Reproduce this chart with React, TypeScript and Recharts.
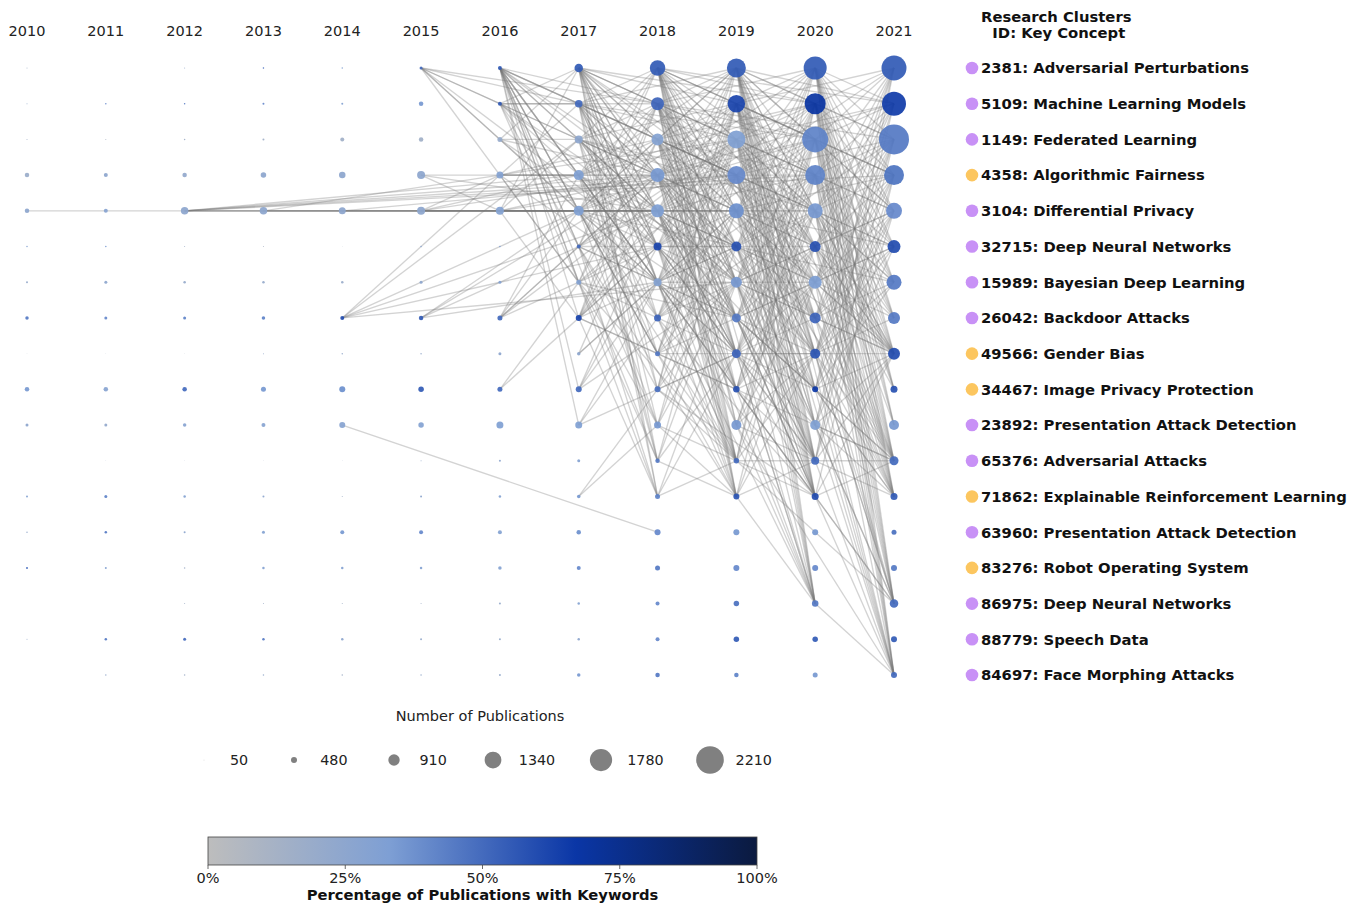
import React from "react";
import { ScatterChart, Scatter, XAxis, YAxis, ReferenceLine } from "recharts";

const years = [2010, 2011, 2012, 2013, 2014, 2015, 2016, 2017, 2018, 2019, 2020, 2021];

const clusterIds = [2381, 5109, 1149, 4358, 3104, 32715, 15989, 26042, 49566, 34467, 23892, 65376, 71862, 63960, 83276, 86975, 88779, 84697];
const clusterNames = [
  "Adversarial Perturbations",
  "Machine Learning Models",
  "Federated Learning",
  "Algorithmic Fairness",
  "Differential Privacy",
  "Deep Neural Networks",
  "Bayesian Deep Learning",
  "Backdoor Attacks",
  "Gender Bias",
  "Image Privacy Protection",
  "Presentation Attack Detection",
  "Adversarial Attacks",
  "Explainable Reinforcement Learning",
  "Presentation Attack Detection",
  "Robot Operating System",
  "Deep Neural Networks",
  "Speech Data",
  "Face Morphing Attacks",
];
const clusterGroups = ["A", "A", "A", "B", "A", "A", "A", "A", "B", "B", "A", "A", "B", "A", "B", "A", "A", "A"];

// number of publications, one row per cluster, one column per year
const publications = [
  [80, 0, 80, 120, 120, 240, 320, 680, 1240, 1520, 1840, 2000],
  [80, 120, 120, 160, 160, 360, 320, 600, 1040, 1400, 1680, 1920],
  [80, 80, 120, 160, 320, 360, 400, 640, 960, 1440, 2080, 2400],
  [360, 320, 360, 440, 520, 640, 560, 800, 1120, 1440, 1600, 1600],
  [360, 320, 600, 600, 560, 640, 640, 800, 1040, 1200, 1200, 1280],
  [120, 120, 80, 80, 40, 120, 120, 320, 640, 800, 880, 1040],
  [160, 240, 200, 200, 200, 240, 240, 400, 640, 880, 1040, 1200],
  [280, 240, 240, 280, 320, 360, 400, 480, 560, 720, 880, 960],
  [40, 40, 40, 80, 120, 120, 240, 280, 400, 720, 800, 960],
  [360, 360, 360, 400, 480, 440, 400, 480, 480, 520, 480, 560],
  [240, 240, 280, 320, 480, 440, 560, 560, 560, 800, 800, 800],
  [0, 40, 40, 40, 40, 80, 160, 240, 360, 440, 640, 720],
  [160, 240, 200, 160, 80, 160, 200, 280, 400, 480, 560, 560],
  [120, 200, 160, 240, 320, 320, 320, 360, 480, 480, 480, 400],
  [160, 160, 120, 200, 200, 200, 280, 320, 400, 480, 480, 480],
  [0, 0, 80, 80, 80, 80, 160, 200, 320, 440, 520, 680],
  [80, 200, 240, 200, 200, 160, 160, 200, 320, 440, 440, 480],
  [0, 120, 120, 120, 120, 120, 160, 280, 360, 360, 400, 480],
];

// percentage of publications with keywords
const keywordShare = [
  [15, 0, 20, 50, 30, 50, 55, 55, 55, 55, 55, 55],
  [20, 40, 45, 40, 30, 35, 55, 50, 52, 62, 68, 65],
  [15, 10, 15, 15, 15, 15, 20, 25, 30, 32, 42, 45],
  [18, 25, 22, 25, 25, 25, 30, 32, 35, 40, 42, 47],
  [25, 28, 25, 25, 25, 25, 30, 32, 33, 38, 35, 40],
  [30, 35, 15, 10, 10, 30, 35, 50, 62, 58, 58, 60],
  [20, 25, 20, 20, 18, 25, 30, 30, 30, 35, 33, 45],
  [45, 40, 42, 42, 60, 55, 50, 62, 52, 45, 52, 45],
  [10, 10, 10, 20, 20, 20, 25, 25, 45, 52, 57, 60],
  [35, 28, 50, 35, 38, 55, 50, 50, 48, 58, 66, 58],
  [25, 22, 28, 28, 28, 30, 32, 32, 35, 35, 32, 35],
  [0, 15, 15, 15, 15, 20, 25, 30, 45, 50, 50, 50],
  [30, 42, 30, 25, 15, 25, 30, 35, 42, 57, 60, 55],
  [20, 45, 25, 30, 35, 40, 30, 38, 40, 35, 35, 48],
  [50, 30, 15, 30, 30, 30, 30, 40, 45, 40, 40, 45],
  [0, 0, 15, 15, 15, 15, 20, 30, 40, 48, 45, 50],
  [20, 45, 50, 45, 25, 20, 20, 25, 40, 55, 55, 55],
  [0, 20, 15, 20, 15, 20, 20, 35, 45, 42, 35, 50],
];

// links: "year.row" -> "targetYear:rows targetYear:rows"
const links: [string, string][] = [
  ["2010.4", "2011:4"],
  ["2011.4", "2012:4"],
  ["2012.4", "2016:4 2017:3,4 2018:3,4 2019:3 2020:3,4 2021:3"],
  ["2013.4", "2016:3 2018:4 2019:4"],
  ["2014.4", "2017:4 2019:3"],
  ["2015.4", "2016:3,4 2017:3 2018:3,4 2019:4"],
  ["2015.3", "2016:4 2017:3 2018:4"],
  ["2015.0", "2016:2 2017:1,2,4,6 2018:1,3,5"],
  ["2014.7", "2016:3 2017:2,4 2018:4,5 2019:6"],
  ["2015.7", "2017:4,5 2018:3,6"],
  ["2014.10", "2018:13"],
  ["2016.0", "2017:1,2,3,4,5,6,7,9,10 2018:1,2,3,4,6,8,10,11,12 2019:3,5,9,12"],
  ["2016.1", "2017:0,1,3,5 2018:1,4,7,11 2019:6"],
  ["2016.2", "2017:0,2,4 2018:3,5"],
  ["2016.3", "2017:1,3,6 2018:2,3,6 2019:2 2020:3"],
  ["2016.4", "2017:0,2,4,7 2018:3,4 2019:3,4 2020:4"],
  ["2016.7", "2017:3,4,5 2018:3,5 2019:2"],
  ["2016.9", "2017:6 2018:5"],
  ["2017.0", "2018:1,2,3,4,5,6,7,9,11,12 2019:1,2,3,4,6,8,10,12 2020:1,3,5,8"],
  ["2017.1", "2018:0,2,3,4,5,6,8,10,12 2019:0,2,3,5,7,9,11 2020:2,6"],
  ["2017.2", "2018:0,1,3,4,5,7,9,11 2019:1,3,4,6,8 2020:4,9"],
  ["2017.3", "2018:0,1,2,5,6,7,8,11 2019:0,2,5,6,9 2020:1,7"],
  ["2017.4", "2018:0,1,2,3,5,6,8,10 2019:0,1,5,7,8,11 2020:2"],
  ["2017.5", "2018:0,1,3,4,6,9,12 2019:2,5,7,12"],
  ["2017.6", "2018:1,2,4,7,10 2019:3,7,11"],
  ["2017.7", "2018:1,2,3,4,5,8,12 2019:2,5,9"],
  ["2017.8", "2018:3,6 2019:4"],
  ["2017.9", "2018:4,5,6 2019:6"],
  ["2017.10", "2018:6,7 2019:8"],
  ["2017.12", "2018:9,10"],
  ["2018.0", "2019:1,2,3,4,5,6,7,8,9,10,11,12 2020:1,2,3,5,7,8,11,12,15 2021:1,3,6"],
  ["2018.1", "2019:0,2,3,4,5,6,7,8,10,11,12 2020:0,2,4,6,9,11,15 2021:2,8"],
  ["2018.2", "2019:0,1,3,4,5,6,7,8,9,11,12 2020:1,3,4,7,10,12 2021:5"],
  ["2018.3", "2019:0,1,2,4,5,6,7,8,9,11,12 2020:0,2,5,8,11,15 2021:1"],
  ["2018.4", "2019:0,1,2,3,5,6,7,8,9,10,11 2020:1,3,6,12,15"],
  ["2018.5", "2019:0,1,2,3,4,6,7,8,11,12 2020:2,5,9,11"],
  ["2018.6", "2019:0,1,2,3,4,5,7,8,11 2020:3,6,12,15"],
  ["2018.7", "2019:1,2,3,4,5,6,8,11,12 2020:4,12"],
  ["2018.8", "2019:1,2,3,5,6,7,9,11 2020:8"],
  ["2018.9", "2019:0,1,4,6,8,11 2020:12"],
  ["2018.10", "2019:2,4,6,11,12"],
  ["2018.11", "2019:3,5,8,12"],
  ["2018.12", "2019:6,8,11"],
  ["2019.0", "2020:1,2,3,4,5,6,7,8,9,10,11,12,15 2021:1,2,4,8,11,15,17"],
  ["2019.1", "2020:0,2,3,4,5,6,7,8,9,10,11,12,15 2021:0,3,8,12,15"],
  ["2019.2", "2020:0,1,3,4,5,6,7,8,9,11,12,15 2021:1,4,8,11,17"],
  ["2019.3", "2020:0,1,2,4,5,6,7,8,10,11,12,15 2021:0,2,8,12,17"],
  ["2019.4", "2020:0,1,2,3,5,6,7,8,9,11,12,15 2021:3,5,8,11"],
  ["2019.5", "2020:0,1,2,3,4,6,7,8,10,11,12 2021:2,6,8,15"],
  ["2019.6", "2020:0,1,2,3,4,5,7,8,11,12,15 2021:4,8,12"],
  ["2019.7", "2020:1,2,3,4,5,6,8,9,11,12 2021:5,11,17"],
  ["2019.8", "2020:0,2,3,4,5,6,7,9,11,15 2021:8,12"],
  ["2019.9", "2020:1,2,4,5,6,8,11,12 2021:11,15"],
  ["2019.10", "2020:3,4,6,8,11,15 2021:17"],
  ["2019.11", "2020:1,2,5,8,12 2021:11,15"],
  ["2019.12", "2020:3,6,8,11,15"],
  ["2020.0", "2021:1,2,3,4,5,6,7,8,9,10,11,12,15,17"],
  ["2020.1", "2021:0,2,3,4,5,6,7,8,9,10,11,12,15,17"],
  ["2020.2", "2021:0,1,3,4,5,6,7,8,9,10,11,12,15,17"],
  ["2020.3", "2021:0,1,2,4,5,6,7,8,9,11,12,15,17"],
  ["2020.4", "2021:0,1,2,3,5,6,7,8,10,11,12,15,17"],
  ["2020.5", "2021:0,1,2,3,4,6,7,8,9,11,12,15"],
  ["2020.6", "2021:0,1,2,3,4,5,7,8,11,12,17"],
  ["2020.7", "2021:0,2,3,4,5,6,8,11,12,15"],
  ["2020.8", "2021:1,2,3,4,5,6,7,11,12,15,17"],
  ["2020.9", "2021:0,2,4,6,8,11,12,17"],
  ["2020.10", "2021:1,3,5,8,11,15"],
  ["2020.11", "2021:0,2,4,8,12,17"],
  ["2020.12", "2021:3,8,11,15"],
  ["2020.15", "2021:17"],
];

const sizeLegend = [50, 480, 910, 1340, 1780, 2210];
const shareTicks = [0, 25, 50, 75, 100];

const FONT = "'DejaVu Sans', sans-serif";
const PX_PER_PUB = 1 / 160; // bubble radius per publication
const groupColor: Record<string, string> = { A: "#c891f6", B: "#fcc65f" };
const colorStops: [number, string][] = [
  [0, "#bdbdbd"],
  [0.33, "#7e9fd4"],
  [0.67, "#0a36a6"],
  [1, "#0b1a3f"],
];

function hexToRgb(h: string) {
  return [1, 3, 5].map((i) => parseInt(h.slice(i, i + 2), 16));
}

function shareColor(pct: number) {
  const t = Math.max(0, Math.min(1, pct / 100));
  for (let i = 1; i < colorStops.length; i++) {
    const [t0, c0] = colorStops[i - 1];
    const [t1, c1] = colorStops[i];
    if (t <= t1) {
      const f = (t - t0) / (t1 - t0);
      const a = hexToRgb(c0);
      const b = hexToRgb(c1);
      const m = a.map((v, k) => Math.round(v + (b[k] - v) * f));
      return `rgb(${m[0]},${m[1]},${m[2]})`;
    }
  }
  return colorStops[colorStops.length - 1][1];
}

const rows = clusterIds.map((_, i) => i);

const nodes = publications.flatMap((counts, row) =>
  counts
    .map((count, c) => ({ year: years[c], row, count, share: keywordShare[row][c] }))
    .filter((d) => d.count > 0)
);

const segments = links.flatMap(([src, targets]) => {
  const [sy, sr] = src.split(".").map(Number);
  return targets.split(" ").flatMap((grp) => {
    const [ty, list] = grp.split(":");
    return list.split(",").map((r) => ({ x1: sy, y1: sr, x2: Number(ty), y2: Number(r) }));
  });
});

const renderBubble = (p: any) => (
  <circle
    cx={p.cx}
    cy={p.cy}
    r={p.payload.count * PX_PER_PUB}
    fill={shareColor(p.payload.share)}
    fillOpacity={0.93}
  />
);

const renderYearTick = ({ x, y, payload }: any) => (
  <text x={x} y={y - 32} textAnchor="middle" fontSize={14.5} fontFamily={FONT} fill="#222">
    {payload.value}
  </text>
);

const renderClusterTick = ({ x, y, payload }: any) => {
  const i = payload.value;
  return (
    <g>
      <circle cx={x + 78} cy={y} r={6.3} fill={groupColor[clusterGroups[i]]} />
      <text x={x + 87} y={y} dy="0.36em" fontSize={14.8} fontWeight="bold" fontFamily={FONT} fill="#111">
        {`${clusterIds[i]}: ${clusterNames[i]}`}
      </text>
    </g>
  );
};

function SizeLegend() {
  return (
    <div style={{ position: "absolute", left: 184, top: 743, display: "flex", alignItems: "center", fontFamily: FONT, fontSize: 14.3, color: "#222" }}>
      {sizeLegend.map((v) => (
        <div key={v} style={{ display: "flex", alignItems: "center", marginRight: 26 }}>
          <svg width={40} height={34}>
            <circle cx={20} cy={17} r={v * PX_PER_PUB} fill="#808080" />
          </svg>
          <span style={{ marginLeft: 6 }}>{v}</span>
        </div>
      ))}
    </div>
  );
}

function ColorBar() {
  const x0 = 208;
  const w = 549;
  return (
    <svg style={{ position: "absolute", left: 0, top: 820 }} width={960} height={83}>
      <defs>
        <linearGradient id="shareGrad" x1="0" x2="1" y1="0" y2="0">
          {colorStops.map(([t, c]) => (
            <stop key={t} offset={t} stopColor={c} />
          ))}
        </linearGradient>
      </defs>
      <rect x={x0} y={17} width={w} height={28} fill="url(#shareGrad)" stroke="#444" strokeWidth={0.8} />
      {shareTicks.map((t) => (
        <g key={t}>
          <line x1={x0 + (t / 100) * w} x2={x0 + (t / 100) * w} y1={45} y2={49} stroke="#444" strokeWidth={0.8} />
          <text x={x0 + (t / 100) * w} y={63} textAnchor="middle" fontSize={14.5} fontFamily={FONT} fill="#222">
            {t}%
          </text>
        </g>
      ))}
      <text x={x0 + w / 2} y={80} textAnchor="middle" fontSize={14.75} fontWeight="bold" fontFamily={FONT} fill="#111">
        Percentage of Publications with Keywords
      </text>
    </svg>
  );
}

export default function App() {
  return (
    <div style={{ position: "absolute", left: 0, top: 0, width: 1364, height: 903, background: "#fff", overflow: "hidden" }}>
      <ScatterChart width={1364} height={700} margin={{ top: 0, right: 0, bottom: 25, left: 27 }}>
        <XAxis
          dataKey="year"
          type="number"
          orientation="top"
          domain={[2010, 2021]}
          ticks={years}
          interval={0}
          height={68}
          axisLine={false}
          tickLine={false}
          tickSize={0}
          tickMargin={0}
          tick={renderYearTick}
        />
        <YAxis
          dataKey="row"
          type="number"
          orientation="right"
          reversed
          domain={[0, 17]}
          ticks={rows}
          interval={0}
          width={470}
          axisLine={false}
          tickLine={false}
          tickSize={0}
          tickMargin={0}
          tick={renderClusterTick}
        />
        {segments.map((s, i) => (
          <ReferenceLine
            key={i}
            segment={[{ x: s.x1, y: s.y1 }, { x: s.x2, y: s.y2 }]}
            stroke="#7a7a7a"
            strokeOpacity={0.33}
            strokeWidth={1.35}
            ifOverflow="visible"
          />
        ))}
        <Scatter data={nodes} isAnimationActive={false} shape={renderBubble} />
      </ScatterChart>
      <div style={{ position: "absolute", left: 0, top: 0, width: 1364, height: 903, pointerEvents: "none" }}>
        <div style={{ position: "absolute", left: 981, top: 9, fontFamily: FONT, fontSize: 14.8, fontWeight: "bold", lineHeight: "16px", whiteSpace: "pre", textAlign: "center", color: "#111" }}>
          {"Research Clusters\n ID: Key Concept"}
        </div>
        <div style={{ position: "absolute", left: 380, top: 707, width: 200, textAlign: "center", fontFamily: FONT, fontSize: 14.5, lineHeight: "18px", color: "#222" }}>
          Number of Publications
        </div>
        <SizeLegend />
        <ColorBar />
      </div>
    </div>
  );
}
